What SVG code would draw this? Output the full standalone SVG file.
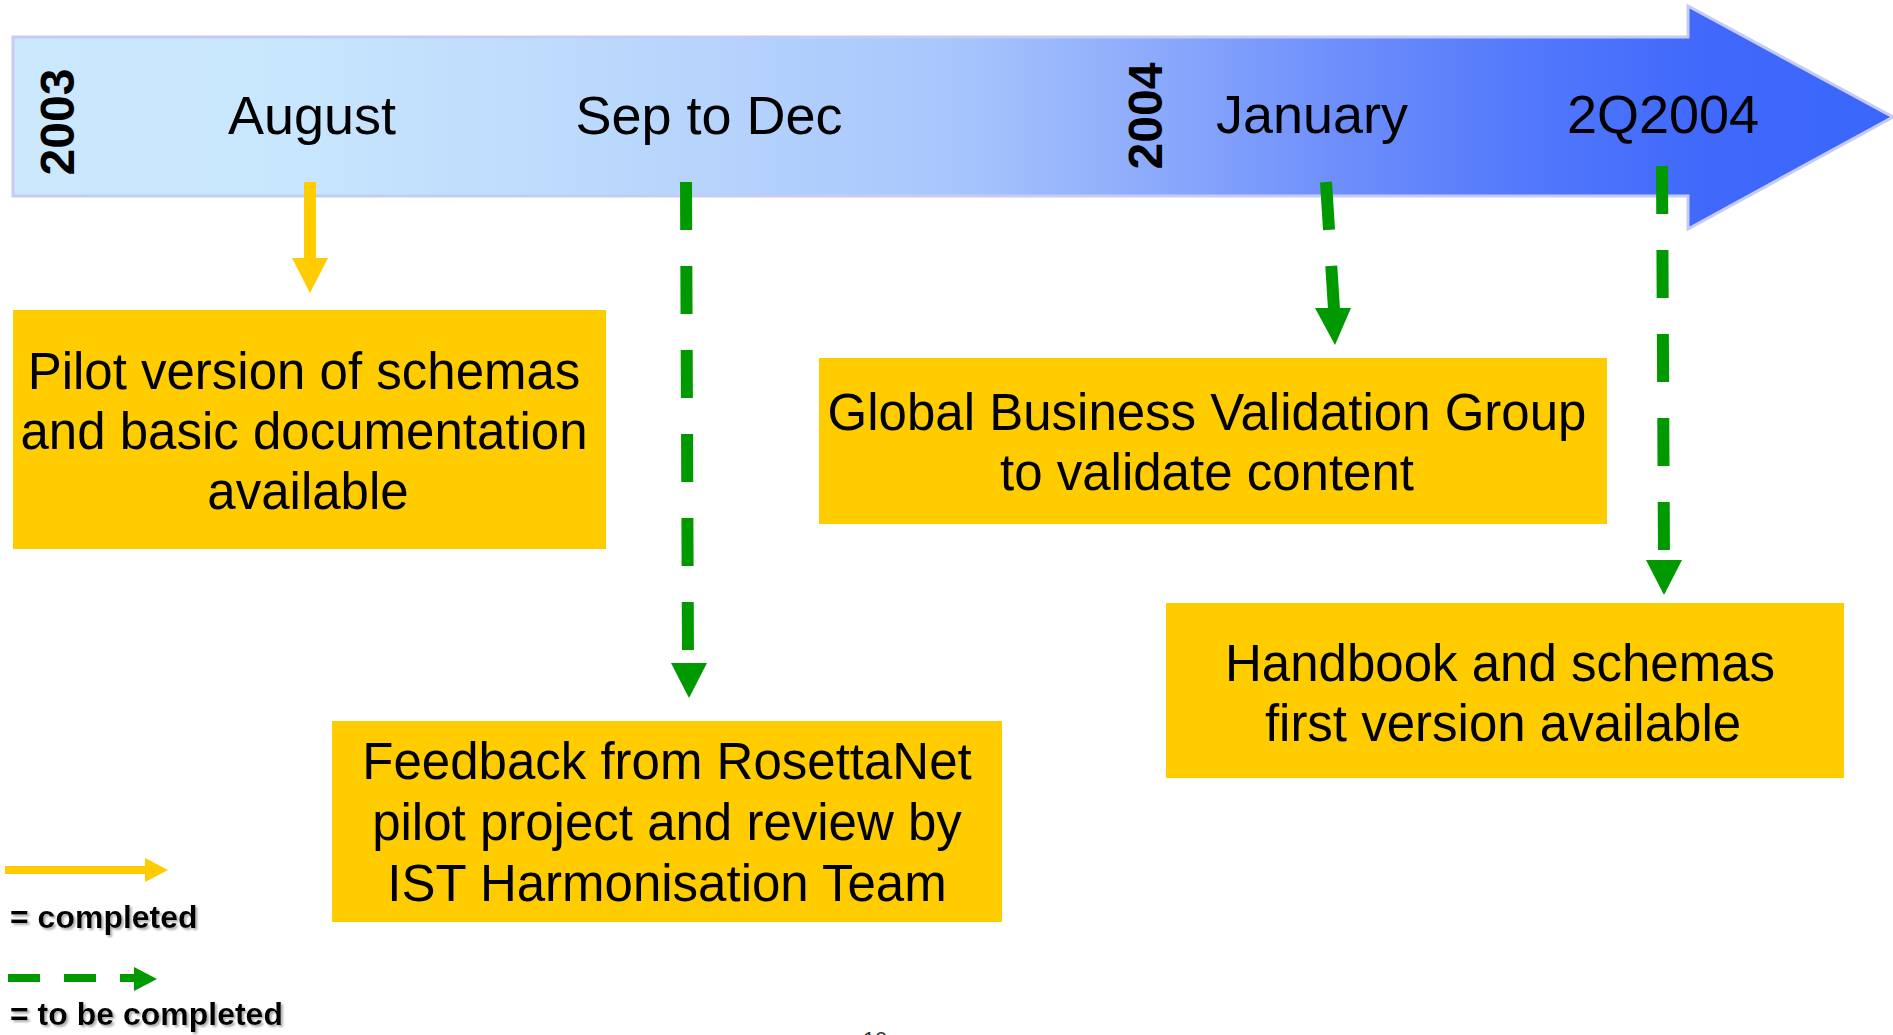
<svg xmlns="http://www.w3.org/2000/svg" width="1893" height="1035" viewBox="0 0 1893 1035">
  <style>
    .lbl { font-family: "Liberation Sans", Arial, sans-serif; font-size: 54px; fill: #000; text-anchor: middle; }
    .year { font-family: "Liberation Sans", Arial, sans-serif; font-size: 48px; font-weight: bold; fill: #000; text-anchor: middle; }
    .box { fill: #ffcc00; }
    .btxt { font-family: "Liberation Sans", Arial, sans-serif; font-size: 51px; fill: #000; text-anchor: middle; }
    .leg { font-family: "Liberation Sans", Arial, sans-serif; font-size: 32px; font-weight: bold; fill: #000; filter: url(#shadow); }
    .done { stroke: #ffcc00; stroke-width: 12; fill: none; }
    .todo { stroke: #009900; stroke-width: 12; fill: none; stroke-dasharray: 48 36; }
    .headY { fill: #ffcc00; }
    .headG { fill: #009900; }
  </style>
  <defs>
    <linearGradient id="timeGrad" x1="13" y1="0" x2="1893" y2="0" gradientUnits="userSpaceOnUse">
      <stop offset="0" stop-color="#cbe8fd"/>
      <stop offset="0.15" stop-color="#c8e6fd"/>
      <stop offset="0.35" stop-color="#b8d6fc"/>
      <stop offset="0.5" stop-color="#a8c6fc"/>
      <stop offset="0.6" stop-color="#8eacfb"/>
      <stop offset="0.7" stop-color="#6f90fb"/>
      <stop offset="0.8" stop-color="#5479fb"/>
      <stop offset="0.9" stop-color="#4069fb"/>
      <stop offset="1" stop-color="#3a66fb"/>
    </linearGradient>
    <filter id="shadow" x="-10%" y="-30%" width="130%" height="160%">
      <feDropShadow dx="2" dy="2" stdDeviation="1" flood-color="#999999" flood-opacity="0.8"/>
    </filter>
  </defs>

  <g id="timeline">
    <polygon points="13,37 1688,37 1688,6 1893,117 1688,229 1688,196 13,196" fill="url(#timeGrad)" stroke="#c6cbf4" stroke-width="3"/>
    <text class="year" transform="translate(74,122) rotate(-90)">2003</text>
    <text class="year" transform="translate(1162,116) rotate(-90)">2004</text>
    <text class="lbl" x="312" y="134">August</text>
    <text class="lbl" x="709" y="134">Sep to Dec</text>
    <text class="lbl" x="1312" y="133">January</text>
    <text class="lbl" x="1663" y="133">2Q2004</text>
  </g>

  <g id="node-pilot">
    <rect class="box" x="13" y="310" width="593" height="239"/>
    <text class="btxt" x="304" y="389">Pilot version of schemas</text>
    <text class="btxt" x="304" y="449">and basic documentation</text>
    <text class="btxt" x="308" y="509">available</text>
  </g>

  <g id="node-feedback">
    <rect class="box" x="332" y="721" width="670" height="201"/>
    <text class="btxt" x="667" y="779">Feedback from RosettaNet</text>
    <text class="btxt" x="667" y="840">pilot project and review by</text>
    <text class="btxt" x="667" y="901">IST Harmonisation Team</text>
  </g>

  <g id="node-validation">
    <rect class="box" x="819" y="358" width="788" height="166"/>
    <text class="btxt" x="1207" y="430">Global Business Validation Group</text>
    <text class="btxt" x="1207" y="490">to validate content</text>
  </g>

  <g id="node-handbook">
    <rect class="box" x="1166" y="603" width="678" height="175"/>
    <text class="btxt" x="1500" y="681">Handbook and schemas</text>
    <text class="btxt" x="1503" y="741">first version available</text>
  </g>

  <g id="connectors">
    <line class="done" x1="310" y1="182" x2="310" y2="259"/>
    <polygon class="headY" points="292,258 328,258 310,293"/>

    <line class="todo" x1="686" y1="182" x2="688" y2="663"/>
    <polygon class="headG" points="671,663 707,663 689,698"/>

    <line class="todo" x1="1326" y1="182" x2="1334" y2="309"/>
    <polygon class="headG" points="1315,308 1351,308 1335,345"/>

    <line class="todo" x1="1662" y1="166" x2="1664" y2="560"/>
    <polygon class="headG" points="1646,560 1682,560 1664,595"/>
  </g>

  <g id="legend">
    <line x1="5" y1="870" x2="146" y2="870" stroke="#ffcc00" stroke-width="8"/>
    <polygon class="headY" points="145,858 168,870 145,882"/>
    <text class="leg" x="10" y="928">= completed</text>
    <line x1="8" y1="978" x2="135" y2="978" stroke="#009900" stroke-width="8" stroke-dasharray="32 24"/>
    <polygon class="headG" points="134,967 157,979 134,991"/>
    <text class="leg" x="10" y="1025">= to be completed</text>
  </g>

  <text x="875" y="1047" font-family="Liberation Sans, Arial, sans-serif" font-size="22" fill="#333" text-anchor="middle">10</text>
</svg>
